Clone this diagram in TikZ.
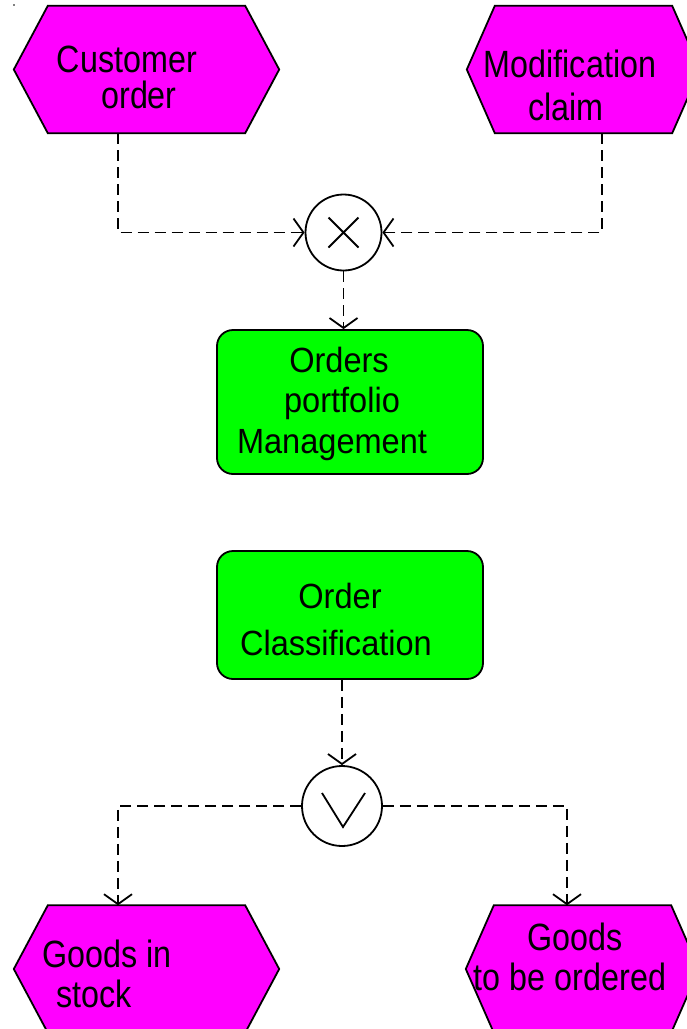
\documentclass[tikz,border=0pt]{standalone}
\usepackage{fontspec}
\setmainfont{Liberation Sans}[FakeStretch=0.93]
\newfontfamily\evtfont{Liberation Sans}[FakeStretch=0.85]
\usetikzlibrary{arrows.meta,calc}
\definecolor{evtfill}{RGB}{255,0,255}
\definecolor{fnfill}{RGB}{0,255,0}
\tikzset{
  hexbase/.style={inner sep=0pt, minimum height=127pt, draw=none},
  evt/.style={fill=evtfill, draw=black, line width=1.8pt, line join=miter},
  fnbox/.style={rectangle, rounded corners=16pt, fill=fnfill, draw=black,
    line width=1.8pt, inner sep=0pt, minimum width=266pt},
  conn/.style={circle, draw=black, fill=white, line width=1.8pt, inner sep=0pt},
  lbl/.style={anchor=base, inner sep=0pt, font=\fontsize{35pt}{40pt}\selectfont},
  elbl/.style={anchor=base, inner sep=0pt, font=\evtfont\fontsize{38pt}{42pt}\selectfont},
  flow/.style={draw=black, line width=1.8pt, dash pattern=on 11pt off 6pt,
    -{Straight Barb[length=10pt, width=28pt, line width=1.8pt]}},
  glyph/.style={draw=black, line width=1.8pt}
}
% hexagonal event outline around an invisible node: #1 name, #2 indent
\newcommand\evthex[2]{%
  \filldraw[evt] ([xshift=#2]#1.north west) -- ([xshift=-#2]#1.north east)
    -- (#1.east) -- ([xshift=-#2]#1.south east) -- ([xshift=#2]#1.south west)
    -- (#1.west) -- cycle;}
\begin{document}
\begin{tikzpicture}[x=1pt, y=-1pt]
\clip (0,0) rectangle (687,1029);
\fill[white] (0,0) rectangle (687,1029);
\fill[black] (14,5) circle (0.8pt);

% events
\node[hexbase, minimum width=265pt] (co) at (146.5,69.5) {};
\evthex{co}{34pt}
\node[hexbase, minimum width=233pt] (mc) at (583.5,69.5) {};
\evthex{mc}{28pt}
\node[hexbase, minimum width=265pt] (gs) at (146.5,969) {};
\evthex{gs}{34pt}
\node[hexbase, minimum width=233pt] (go) at (582.5,969) {};
\evthex{go}{28pt}

% functions
\node[fnbox, minimum height=144pt] (opm) at (350,402) {};
\node[fnbox, minimum height=128pt] (ocl) at (350,615) {};

% connectors (XOR and OR)
\node[conn, minimum size=76pt] (xor) at (343.5,232.5) {};
\draw[glyph] ([shift={(-15pt,-15pt)}]xor.center) -- ([shift={(15pt,15pt)}]xor.center)
  ([shift={(-15pt,15pt)}]xor.center) -- ([shift={(15pt,-15pt)}]xor.center);
\node[conn, minimum size=80pt] (or) at (342,806) {};
\draw[glyph] ([shift={(-20pt,13pt)}]or.center) -- ([shift={(1pt,-21pt)}]or.center)
  -- ([shift={(23pt,13pt)}]or.center);

% labels
\node[elbl] (co1) at (127,72) {Customer};
\node[elbl] (co2) at (139,108) {order};
\node[elbl] (mc1) at (570,77) {Modification};
\node[elbl] (mc2) at (566,120) {claim};
\node[lbl] (opm1) at (339,372) {Orders};
\node[lbl] (opm2) at (342,412) {portfolio};
\node[lbl] (opm3) at (332,453) {Management};
\node[lbl] (ocl1) at (340,608) {Order};
\node[lbl] (ocl2) at (336,655) {Classification};
\node[elbl] (gs1) at (107,967) {Goods in};
\node[elbl] (gs2) at (94,1007) {stock};
\node[elbl] (go1) at (575,950) {Goods};
\node[elbl] (go2) at (570,990) {to be ordered};

% control flow
\draw[flow] ([xshift=-28.5pt]co.south) |- (xor.west);
\draw[flow] ([xshift=18.5pt]mc.south) |- (xor.east);
\draw[flow] (xor.south) -- (xor.south |- opm.north);
\draw[flow] (ocl.south -| or.north) -- (or.north);
\draw[flow] (or.west) -| ([xshift=-28.5pt]gs.north);
\draw[flow] (or.east) -| ([xshift=-15.5pt]go.north);
\end{tikzpicture}
\end{document}
